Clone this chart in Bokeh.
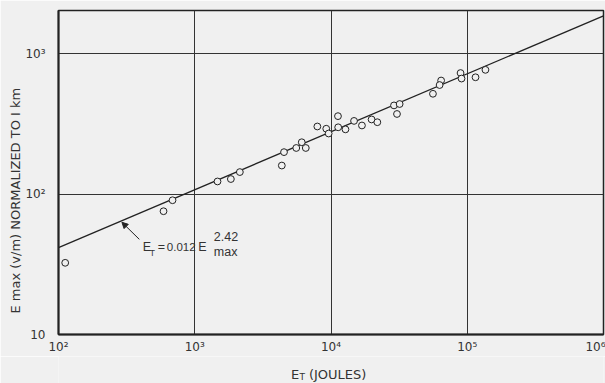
from bokeh.plotting import figure
from bokeh.layouts import column
from bokeh.models import FixedTicker, Label, Arrow, NormalHead, ColumnDataSource, Title
from bokeh.embed import file_html
from bokeh.resources import INLINE

# ---- data ----
et_joules = [112, 590, 687, 1469, 1841, 2143, 4355, 4520, 5560, 6100, 6530,
             7940, 9230, 9610, 11250, 11290, 12770, 14760, 16870, 19860, 21880,
             29000, 31900, 30500, 56000, 64300, 62700, 89300, 90800, 115000, 136000]
emax_vm = [32.4, 75.5, 90.4, 123, 128, 143.5, 159.7, 199, 213, 234, 213,
           303, 292, 270, 359, 299, 289, 332, 308, 340, 325,
           428, 438, 372, 518, 644, 598, 728, 665, 679, 767]

fit_x = [1e2, 1e6]
fit_y = [41.5, 1860]

x_ticks = [1e2, 1e3, 1e4, 1e5, 1e6]
x_tick_labels = ["10\u00b2", "10\u00b3", "10\u2074", "10\u2075", "10\u2076"]
y_ticks = [10, 100, 1000]
y_tick_labels = ["10", "10\u00b2", "10\u00b3"]

y_title = "E max (v/m) NORMALIZED TO I km"
x_title_main, x_title_sub, x_title_unit = "E", "T", "(JOULES)"

BG = "#f0f0f0"
INK = "#222222"
TXT = "#333333"
FONT = "DejaVu Sans"
EQF = "Liberation Sans"

p = figure(width=605, height=356, x_axis_type="log", y_axis_type="log",
           x_range=(1e2, 1e6), y_range=(10, 2030),
           output_backend="svg", toolbar_location=None,
           min_border_left=58, min_border_right=2, min_border_top=10,
           min_border_bottom=22)
p.background_fill_color = BG
p.border_fill_color = BG
p.outline_line_color = INK
p.outline_line_width = 1.5

for ax, ticks, labels in ((p.xaxis[0], x_ticks, x_tick_labels),
                          (p.yaxis[0], y_ticks, y_tick_labels)):
    ax.ticker = FixedTicker(ticks=ticks, minor_ticks=[])
    ax.major_label_overrides = {t: l for t, l in zip(ticks, labels)}
    ax.major_tick_line_color = None
    ax.minor_tick_line_color = None
    ax.major_tick_out = 0
    ax.major_tick_in = 0
    ax.minor_tick_out = 0
    ax.axis_line_color = INK
    ax.axis_line_width = 2
    ax.major_label_text_font = FONT
    ax.major_label_text_font_size = "12px"
    ax.major_label_text_color = TXT
p.xaxis.major_label_standoff = 5
p.yaxis.major_label_standoff = 13

p.xgrid.ticker = FixedTicker(ticks=x_ticks)
p.ygrid.ticker = FixedTicker(ticks=y_ticks)
p.grid.grid_line_color = "#333333"
p.grid.grid_line_width = 1

# y axis title as a side title, started near the bottom of the frame
p.add_layout(Title(text=y_title, align="left", offset=21,
                   text_font=FONT, text_font_size="13px", text_color=TXT,
                   text_font_style="normal", standoff=0), "left")

# fitted line
p.line(fit_x, fit_y, line_color=INK, line_width=1.3)

# data points
src = ColumnDataSource(dict(x=et_joules, y=emax_vm))
p.scatter("x", "y", source=src, marker="circle", size=6.8,
          fill_color=BG, line_color=INK, line_width=1)

# arrow to fitted line
p.add_layout(Arrow(end=NormalHead(size=6, fill_color=INK, line_color=INK),
                   x_start=392, y_start=47.6, x_end=292, y_end=63,
                   line_color=INK, line_width=1))

# equation text
ax0, ay0 = 416, 39.9
def lab(text, dx, dy, size):
    p.add_layout(Label(x=ax0, y=ay0, x_offset=dx, y_offset=dy + 3, text=text,
                       text_font=EQF, text_font_size=size, text_color=TXT,
                       text_baseline="alphabetic"))
lab("E", 0, 0, "12.5px")
lab("T", 7, -6, "8.5px")
lab("=", 15, 0, "12.5px")
lab("0.012", 24, 0, "11.5px")
lab("E", 55.5, 0, "12.5px")
lab("max", 71, -4.5, "12.5px")
lab("2.42", 71, 11, "12.5px")

# x axis title in a strip below the plot
p2 = figure(width=605, height=27, x_range=(0, 605), y_range=(0, 27),
            output_backend="svg", toolbar_location=None, min_border=0,
            x_axis_location=None, y_axis_location=None)
p2.grid.visible = False
p2.outline_line_color = None
p2.background_fill_color = BG
p2.border_fill_color = BG
for text, xx, yy, size in ((x_title_main, 258, 9, "13px"),
                           (x_title_sub, 267.5, 6.5, "9px"),
                           (x_title_unit, 278, 9, "13px")):
    p2.add_layout(Label(x=xx, y=yy, text=text, text_font=FONT,
                        text_font_size=size, text_color=TXT,
                        text_baseline="alphabetic"))

layout = column(p, p2, spacing=0)
open("out.html", "w").write(file_html(layout, INLINE))
